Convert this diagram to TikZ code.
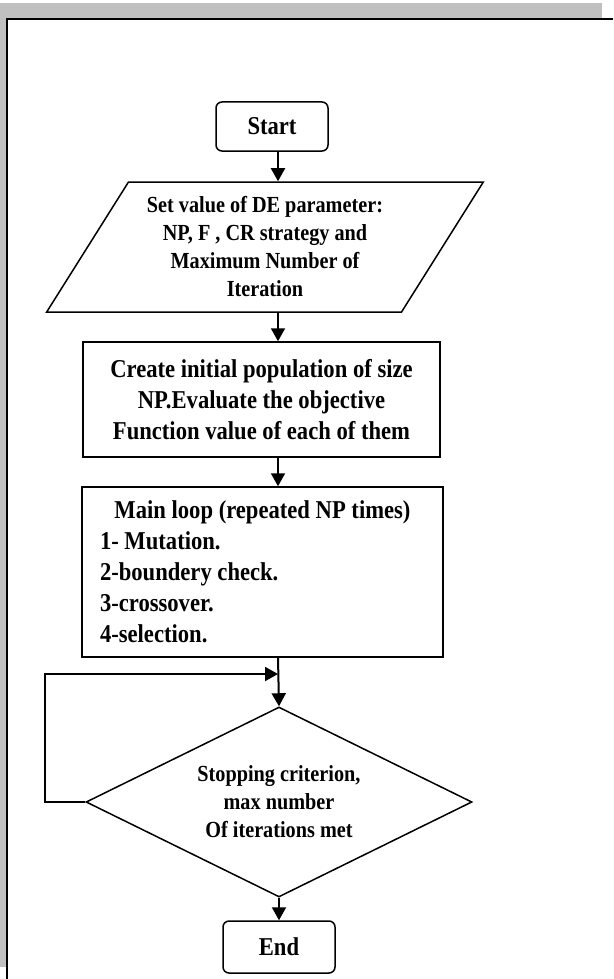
\documentclass[tikz,border=0pt]{standalone}
\usepackage{fontspec}
\setmainfont{Liberation Serif}[FakeStretch=0.88]
\usetikzlibrary{shapes.geometric,arrows.meta}

\definecolor{framegray}{RGB}{192,192,192}
\newcommand{\mainsize}{\fontsize{25.7}{31}\selectfont}
\newcommand{\subsize}{\fontsize{23}{28}\selectfont}

\tikzset{
  flowbox/.style={draw, line width=1.5pt, inner sep=4pt, font=\bfseries\mainsize, align=center},
  termbox/.style={flowbox, rounded corners=6pt},
  iobox/.style={flowbox, trapezium, trapezium left angle=56, trapezium right angle=124,
    trapezium stretches=true, font=\bfseries\subsize},
  decbox/.style={flowbox, diamond, aspect=2, inner sep=0pt, font=\bfseries\subsize},
  flowarrow/.style={line width=2pt, -{Triangle[width=14pt,length=13pt]}}
}

\begin{document}
\begin{tikzpicture}[x=1pt,y=-1pt]
\useasboundingbox (0,0) rectangle (613,979);
% page frame
\fill[framegray] (0,3) rectangle (602,18);
\fill[framegray] (0,3) rectangle (6,967);
\draw[line width=2pt] (7,979) -- (7,19) -- (613,19);

\node[termbox, minimum width=112, minimum height=49] (start) at (272,126.5) {Start};
\node[iobox, minimum width=439, minimum height=130] (param) at (265,247)
  {Set value of DE parameter:\\NP, F , CR strategy and\\Maximum Number of\\Iteration};
\node[flowbox, minimum width=357, minimum height=115] (create) at (261.5,399.5)
  {Create initial population of size\\NP.Evaluate the objective\\Function value of each of them};
\node[flowbox, minimum width=361, minimum height=170, text width=325, align=flush left] (loop) at (262.5,572)
  {\makebox[\linewidth]{Main loop (repeated NP times)}\\1- Mutation.\\2-boundery check.\\3-crossover.\\4-selection.};
\node[decbox, minimum width=386, minimum height=190] (dec) at (279,802)
  {Stopping criterion,\\max number\\Of iterations met};
\node[termbox, minimum width=112, minimum height=52] (end) at (279,947) {End};

\coordinate (axis) at (278,0);
\coordinate (join) at (278,674);

\draw[flowarrow] (axis |- start.south) -- (axis |- param.north);
\draw[flowarrow] (axis |- param.south) -- (axis |- create.north);
\draw[flowarrow] (axis |- create.south) -- (axis |- loop.north);
\draw[flowarrow] (axis |- loop.south) -- (dec.north);
\draw[flowarrow] (dec.west) -- ++(-40,0) |- (join);
\draw[flowarrow] (dec.south) -- (end.north);
\end{tikzpicture}
\end{document}
